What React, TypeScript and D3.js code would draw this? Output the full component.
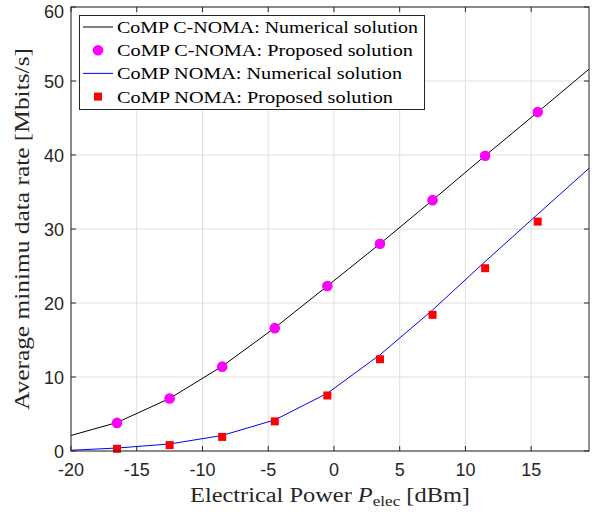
import React from "react";
import * as d3 from "d3";

// Electrical power (dBm) at which the proposed solution is evaluated
const powerPoints = [-16.5, -12.5, -8.5, -4.5, -0.5, 3.5, 7.5, 11.5, 15.5];
// Power grid for the numerical solution curves
const powerCurve = [-20, -16.5, -12.5, -8.5, -4.5, -0.5, 3.5, 7.5, 11.5, 15.5, 19.4];

const cnomaNumerical = [2.1, 3.85, 7.1, 11.45, 16.65, 22.3, 28.0, 33.9, 39.9, 45.8, 51.6];
const cnomaProposed = [3.8, 7.1, 11.4, 16.6, 22.3, 28.0, 33.9, 39.9, 45.8];
const nomaNumerical = [0.1, 0.4, 0.95, 2.1, 4.2, 7.8, 13.0, 19.05, 25.6, 32.0, 38.2];
const nomaProposed = [0.3, 0.8, 1.9, 4.0, 7.5, 12.4, 18.4, 24.7, 31.0];

const xTicks = [-20, -15, -10, -5, 0, 5, 10, 15];
const yTicks = [0, 10, 20, 30, 40, 50, 60];

const legendLabels = [
  "CoMP C-NOMA: Numerical solution",
  "CoMP C-NOMA: Proposed solution",
  "CoMP NOMA: Numerical solution",
  "CoMP NOMA: Proposed solution",
];
const legendWidths = [301, 296, 285, 276];

const W = 595;
const H = 514;
const left = 71;
const right = 589;
const top = 7;
const bottom = 451;

export default function App() {
  const x = d3.scaleLinear().domain([-20, 19.4]).range([left, right]);
  const y = d3.scaleLinear().domain([0, 60]).range([bottom, top]);

  const line = d3
    .line<number>()
    .x((_, i) => x(powerCurve[i]))
    .y((d) => y(d));

  const tickFont = "'Liberation Sans', Arial, sans-serif";
  const serif = "'Liberation Serif', 'DejaVu Serif', serif";
  const axisColor = "#262626";

  return (
    <svg
      width={W}
      height={H}
      style={{ position: "absolute", left: 0, top: 0, background: "#fff" }}
    >
      <rect x={0} y={0} width={W} height={H} fill="#fff" />
      {/* grid */}
      {xTicks.map((t) => (
        <line key={"gx" + t} x1={x(t)} x2={x(t)} y1={top} y2={bottom} stroke="#dfdfdf" strokeWidth={1} />
      ))}
      {yTicks.map((t) => (
        <line key={"gy" + t} x1={left} x2={right} y1={y(t)} y2={y(t)} stroke="#dfdfdf" strokeWidth={1} />
      ))}

      {/* numerical curves */}
      <path d={line(cnomaNumerical) || ""} fill="none" stroke="#000" strokeWidth={1} />
      <path d={line(nomaNumerical) || ""} fill="none" stroke="#0000ff" strokeWidth={1} />

      {/* proposed solution markers */}
      {cnomaProposed.map((v, i) => (
        <circle key={"c" + i} cx={x(powerPoints[i])} cy={y(v)} r={5.3} fill="#ff00ff" />
      ))}
      {nomaProposed.map((v, i) => (
        <rect key={"s" + i} x={x(powerPoints[i]) - 4} y={y(v) - 4} width={8} height={8} fill="#ff0000" />
      ))}

      {/* axes box */}
      <rect x={left} y={top} width={right - left} height={bottom - top} fill="none" stroke={axisColor} strokeWidth={1} />
      {xTicks.map((t) => (
        <g key={"xt" + t}>
          <line x1={x(t)} x2={x(t)} y1={bottom} y2={bottom - 5} stroke={axisColor} />
          <line x1={x(t)} x2={x(t)} y1={top} y2={top + 5} stroke={axisColor} />
          <text x={x(t)} y={bottom + 25} textAnchor="middle" fontFamily={tickFont} fontSize={18} fill="#262626">
            {t}
          </text>
        </g>
      ))}
      {yTicks.map((t) => (
        <g key={"yt" + t}>
          <line x1={left} x2={left + 5} y1={y(t)} y2={y(t)} stroke={axisColor} />
          <line x1={right} x2={right - 5} y1={y(t)} y2={y(t)} stroke={axisColor} />
          <text
            x={left - 7}
            y={Math.max(y(t) + 6.5, 17.5)}
            textAnchor="end"
            fontFamily={tickFont}
            fontSize={18}
            fill="#262626"
          >
            {t}
          </text>
        </g>
      ))}

      {/* axis labels */}
      <text
        x={190}
        y={502}
        fontFamily={serif}
        fontSize={20}
        fill="#262626"
        textLength={280}
        lengthAdjust="spacingAndGlyphs"
      >
        Electrical Power <tspan fontStyle="italic">P</tspan>
        <tspan fontSize={14} dy={4}>elec</tspan>
        <tspan dy={-4}> [dBm]</tspan>
      </text>
      <text
        transform={`translate(29, ${(top + bottom) / 2}) rotate(-90)`}
        textAnchor="middle"
        fontFamily={serif}
        fontSize={20}
        fill="#262626"
        textLength={362}
        lengthAdjust="spacingAndGlyphs"
      >
        Average minimu data rate [Mbits/s]
      </text>

      {/* legend */}
      <g>
        <rect x={79.5} y={15.5} width={345} height={94} fill="#fff" stroke={axisColor} strokeWidth={1} />
        {legendLabels.map((lab, i) => {
          const cy = 27 + i * 23.2;
          return (
            <g key={"lg" + i}>
              {i === 0 && <line x1={83} x2={113} y1={cy} y2={cy} stroke="#000" />}
              {i === 1 && <circle cx={98} cy={cy} r={5.3} fill="#ff00ff" />}
              {i === 2 && <line x1={83} x2={113} y1={cy} y2={cy} stroke="#0000ff" />}
              {i === 3 && <rect x={94} y={cy - 4} width={8} height={8} fill="#ff0000" />}
              <text
                x={117}
                y={cy + 6}
                fontFamily={serif}
                fontSize={17.5}
                fill="#000"
                textLength={legendWidths[i]}
                lengthAdjust="spacingAndGlyphs"
              >
                {lab}
              </text>
            </g>
          );
        })}
      </g>
    </svg>
  );
}
